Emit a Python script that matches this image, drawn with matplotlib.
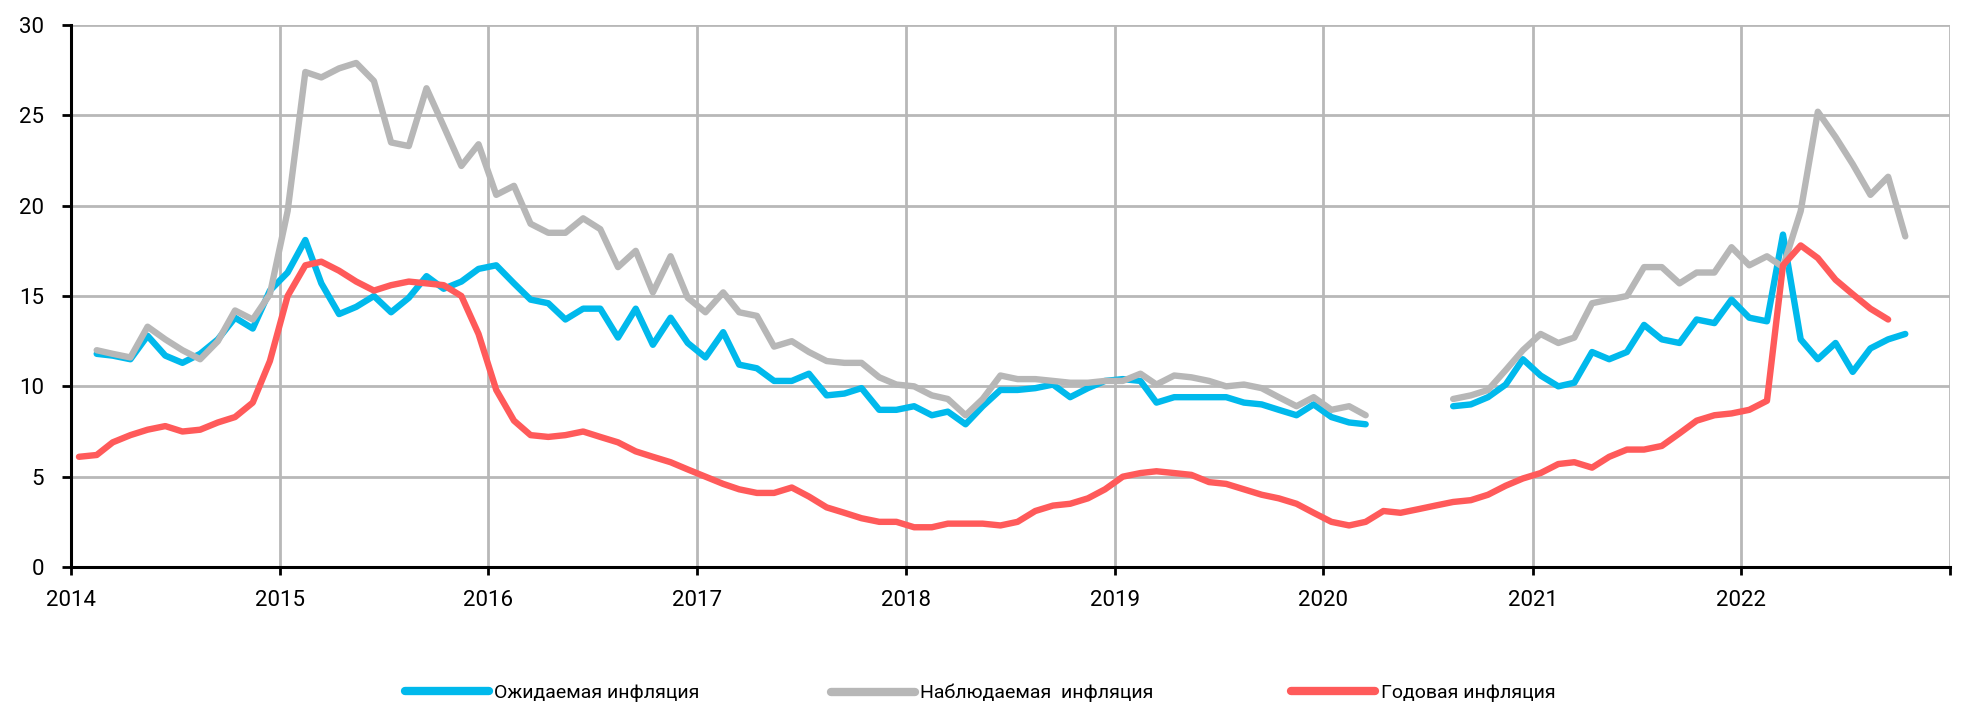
import pandas as pd
import matplotlib
matplotlib.use("Agg")
import matplotlib.pyplot as plt
import matplotlib.dates as mdates

plt.rcParams['font.family'] = ['Roboto', 'DejaVu Sans']

# monthly data, Jan 2014 - Oct 2022 (None = no data)
months = pd.date_range('2014-01-01', '2022-10-01', freq='MS') + pd.Timedelta(days=14)

expected = [
    None, 11.8, 11.7, 11.5, 12.8, 11.7, 11.3, 11.8, 12.6, 13.8, 13.2, 15.3,   # 2014
    16.3, 18.1, 15.7, 14.0, 14.4, 15.0, 14.1, 14.9, 16.1, 15.4, 15.8, 16.5,   # 2015
    16.7, 15.7, 14.8, 14.6, 13.7, 14.3, 14.3, 12.7, 14.3, 12.3, 13.8, 12.4,   # 2016
    11.6, 13.0, 11.2, 11.0, 10.3, 10.3, 10.7, 9.5, 9.6, 9.9, 8.7, 8.7,        # 2017
    8.9, 8.4, 8.6, 7.9, 8.9, 9.8, 9.8, 9.9, 10.1, 9.4, 9.9, 10.3,             # 2018
    10.4, 10.3, 9.1, 9.4, 9.4, 9.4, 9.4, 9.1, 9.0, 8.7, 8.4, 9.0,             # 2019
    8.3, 8.0, 7.9, None, None, None, None, 8.9, 9.0, 9.4, 10.1, 11.5,         # 2020
    10.6, 10.0, 10.2, 11.9, 11.5, 11.9, 13.4, 12.6, 12.4, 13.7, 13.5, 14.8,   # 2021
    13.8, 13.6, 18.4, 12.6, 11.5, 12.4, 10.8, 12.1, 12.6, 12.9,               # 2022
]

observed = [
    None, 12.0, 11.8, 11.6, 13.3, 12.6, 12.0, 11.5, 12.5, 14.2, 13.7, 15.1,   # 2014
    19.7, 27.4, 27.1, 27.6, 27.9, 26.9, 23.5, 23.3, 26.5, 24.4, 22.2, 23.4,   # 2015
    20.6, 21.1, 19.0, 18.5, 18.5, 19.3, 18.7, 16.6, 17.5, 15.2, 17.2, 14.9,   # 2016
    14.1, 15.2, 14.1, 13.9, 12.2, 12.5, 11.9, 11.4, 11.3, 11.3, 10.5, 10.1,   # 2017
    10.0, 9.5, 9.3, 8.4, 9.3, 10.6, 10.4, 10.4, 10.3, 10.2, 10.2, 10.3,       # 2018
    10.3, 10.7, 10.1, 10.6, 10.5, 10.3, 10.0, 10.1, 9.9, 9.4, 8.9, 9.4,       # 2019
    8.7, 8.9, 8.4, None, None, None, None, 9.3, 9.5, 9.8, 10.9, 12.0,         # 2020
    12.9, 12.4, 12.7, 14.6, 14.8, 15.0, 16.6, 16.6, 15.7, 16.3, 16.3, 17.7,   # 2021
    16.7, 17.2, 16.6, 19.7, 25.2, 23.8, 22.3, 20.6, 21.6, 18.3,               # 2022
]

annual = [
    6.1, 6.2, 6.9, 7.3, 7.6, 7.8, 7.5, 7.6, 8.0, 8.3, 9.1, 11.4,              # 2014
    15.0, 16.7, 16.9, 16.4, 15.8, 15.3, 15.6, 15.8, 15.7, 15.6, 15.0, 12.9,   # 2015
    9.8, 8.1, 7.3, 7.2, 7.3, 7.5, 7.2, 6.9, 6.4, 6.1, 5.8, 5.4,               # 2016
    5.0, 4.6, 4.3, 4.1, 4.1, 4.4, 3.9, 3.3, 3.0, 2.7, 2.5, 2.5,               # 2017
    2.2, 2.2, 2.4, 2.4, 2.4, 2.3, 2.5, 3.1, 3.4, 3.5, 3.8, 4.3,               # 2018
    5.0, 5.2, 5.3, 5.2, 5.1, 4.7, 4.6, 4.3, 4.0, 3.8, 3.5, 3.0,               # 2019
    2.5, 2.3, 2.5, 3.1, 3.0, 3.2, 3.4, 3.6, 3.7, 4.0, 4.5, 4.9,               # 2020
    5.2, 5.7, 5.8, 5.5, 6.1, 6.5, 6.5, 6.7, 7.4, 8.1, 8.4, 8.5,               # 2021
    8.7, 9.2, 16.7, 17.8, 17.1, 15.9, 15.1, 14.3, 13.7, None,                 # 2022
]

labels = ["Ожидаемая инфляция", "Наблюдаемая  инфляция", "Годовая инфляция"]
colors = ["#00B9EC", "#B7B7B7", "#FF5A5A"]

df = pd.DataFrame({labels[0]: expected, labels[1]: observed, labels[2]: annual},
                  index=months, dtype=float)

fig = plt.figure(figsize=(19.66, 7.19), dpi=100)
ax = fig.add_axes([0.0361, 0.2114, 0.9557, 0.7538])

lines = []
for name, c in zip(labels, colors):
    ln, = ax.plot(df.index, df[name], color=c, lw=4.6, label=name,
                  solid_capstyle='round', solid_joinstyle='round')
    lines.append(ln)

ax.set_xlim(pd.Timestamp('2014-01-01'), pd.Timestamp('2023-01-01'))
ax.set_ylim(0, 30)
ax.set_yticks(range(0, 31, 5))
ax.xaxis.set_major_locator(mdates.YearLocator())
ax.xaxis.set_major_formatter(
    plt.FuncFormatter(lambda v, p: '' if mdates.num2date(v).year == 2023 else mdates.num2date(v).strftime('%Y')))

ax.grid(True, color='#B8B8B8', lw=2)
ax.set_axisbelow(True)
for s in ['top', 'right']:
    ax.spines[s].set_visible(False)
for s in ['left', 'bottom']:
    ax.spines[s].set_linewidth(2.2)
    ax.spines[s].set_color('black')
ax.tick_params(axis='y', direction='out', length=6.5, width=2, pad=13, labelsize=16)
ax.tick_params(axis='x', direction='out', length=5.5, width=2, pad=11, labelsize=16)

# one legend per entry, placed like the original
legend_x = [0.206, 0.4227, 0.6567]
for ln, x in zip(lines, legend_x):
    leg = fig.legend([ln], [ln.get_label()], loc='center left', bbox_to_anchor=(x, 0.036),
                     frameon=False, borderpad=0, borderaxespad=0,
                     handlelength=4.3, handletextpad=0.3, fontsize=14)
    leg.get_lines()[0].set_linewidth(6)

plt.savefig("out.png", dpi=100)
